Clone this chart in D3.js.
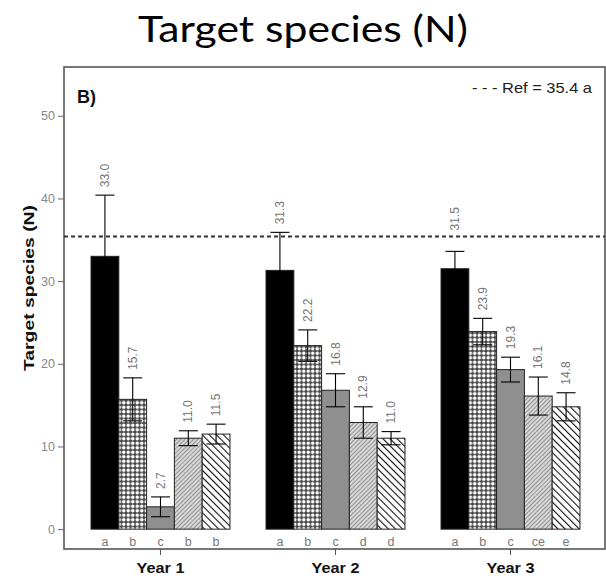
<!DOCTYPE html>
<html><head><meta charset="utf-8">
<script src="https://cdn.jsdelivr.net/npm/d3@7"></script>
<style>body{margin:0;background:#fff}svg{display:block}</style>
</head><body>
<svg id="c" width="606" height="580"></svg>
<script>
const years = ["Year 1", "Year 2", "Year 3"];
const treatments = ["t1", "t2", "t3", "t4", "t5"];
const means = [
  [33.0, 15.7, 2.7, 11.0, 11.5],
  [31.3, 22.2, 16.8, 12.9, 11.0],
  [31.5, 23.9, 19.3, 16.1, 14.8]
];
const errs = [
  [7.4, 2.6, 1.2, 0.9, 1.2],
  [4.6, 1.9, 2.0, 1.9, 0.8],
  [2.1, 1.6, 1.5, 2.3, 1.7]
];
const letters = [
  ["a", "b", "c", "b", "b"],
  ["a", "b", "c", "d", "d"],
  ["a", "b", "c", "ce", "e"]
];
const yTicks = [0, 10, 20, 30, 40, 50];
const refValue = 35.4;
const refLabel = "- - - Ref = 35.4 a";
const title = "Target species (N)";
const yTitle = "Target species (N)";
const panelLabel = "B)";

const FONT = "'Liberation Sans', Arial, sans-serif";
const svg = d3.select("#c");
const defs = svg.append("defs");

// patterns
const p1 = defs.append("pattern").attr("id","pCross").attr("patternUnits","userSpaceOnUse")
  .attr("width",4.5).attr("height",4.5);
p1.append("rect").attr("width",4.5).attr("height",4.5).attr("fill","#444");
p1.append("circle").attr("cx",2.25).attr("cy",2.25).attr("r",1.8).attr("fill","#fff");

const p2 = defs.append("pattern").attr("id","pLight").attr("patternUnits","userSpaceOnUse")
  .attr("width",3).attr("height",3).attr("patternTransform","rotate(45)");
p2.append("rect").attr("width",3).attr("height",3).attr("fill","#d8d8d8");
p2.append("line").attr("x1",0).attr("y1",0).attr("x2",0).attr("y2",3).attr("stroke","#555").attr("stroke-width",1.1);

const p3 = defs.append("pattern").attr("id","pDark").attr("patternUnits","userSpaceOnUse")
  .attr("width",5).attr("height",5).attr("patternTransform","rotate(-45)");
p3.append("rect").attr("width",5).attr("height",5).attr("fill","#fff");
p3.append("line").attr("x1",0).attr("y1",0).attr("x2",0).attr("y2",5).attr("stroke","#111").attr("stroke-width",2.2);

const fills = ["#000", "url(#pCross)", "#8f8f8f", "url(#pLight)", "url(#pDark)"];

const frame = {l: 64, r: 605, t: 67, b: 549};
const x = d3.scaleBand().domain(years).range([73, 598]).paddingInner(0.206).paddingOuter(0.103);
const xi = d3.scaleBand().domain(treatments).range([0, x.bandwidth()]).padding(0);
const y = d3.scaleLinear().domain([-2.4, 55.9]).range([frame.b, frame.t]);

// title
svg.append("text").attr("x", 303).attr("y", 42).attr("text-anchor","middle")
  .attr("font-family","Lato, 'Open Sans', sans-serif").attr("font-size",37).attr("fill","#000")
  .attr("textLength",330).attr("lengthAdjust","spacingAndGlyphs").text(title);

// frame
svg.append("rect").attr("x",frame.l).attr("y",frame.t).attr("width",frame.r-frame.l).attr("height",frame.b-frame.t)
  .attr("fill","none").attr("stroke","#555").attr("stroke-width",1.6);

// y axis
const yAxis = d3.axisLeft(y).tickValues(yTicks).tickSize(6).tickPadding(3);
const ga = svg.append("g").attr("transform",`translate(${frame.l},0)`).call(yAxis);
ga.select(".domain").remove();
ga.selectAll("line").attr("stroke","#666");
ga.selectAll("text").attr("fill","#888").attr("font-family",FONT).attr("font-size",12.5);

// x axis ticks at group centers
const xAxis = d3.axisBottom(x).tickSize(6).tickFormat("");
const gx = svg.append("g").attr("transform",`translate(0,${frame.b})`).call(xAxis);
gx.select(".domain").remove();
gx.selectAll("line").attr("stroke","#555");

svg.append("g").selectAll("text").data(years).join("text")
  .attr("x", d => x(d) + x.bandwidth()/2).attr("y", 573).attr("text-anchor","middle")
  .attr("font-family",FONT).attr("font-weight","bold").attr("font-size",15.5)
  .attr("textLength",48).attr("lengthAdjust","spacingAndGlyphs")
  .attr("fill","#111").text(d => d);

// y title
svg.append("text").attr("transform",`translate(34,288) rotate(-90)`).attr("text-anchor","middle")
  .attr("font-family",FONT).attr("font-weight","bold").attr("font-size",14)
  .attr("textLength",166).attr("lengthAdjust","spacingAndGlyphs")
  .attr("fill","#111").text(yTitle);

// panel label
svg.append("text").attr("x",77).attr("y",103).attr("font-family",FONT)
  .attr("font-weight","bold").attr("font-size",18).attr("fill","#111").text(panelLabel);

// legend
svg.append("text").attr("x",592).attr("y",93).attr("text-anchor","end").attr("font-family",FONT)
  .attr("font-size",15).attr("fill","#222")
  .attr("textLength",120).attr("lengthAdjust","spacingAndGlyphs").text(refLabel);

// data
const rows = [];
years.forEach((yr, gi) => treatments.forEach((t, ti) => rows.push({yr, t, ti, v: means[gi][ti], e: errs[gi][ti], l: letters[gi][ti]})));

const bars = svg.append("g");
bars.selectAll("rect").data(rows).join("rect")
  .attr("x", d => x(d.yr) + xi(d.t)).attr("width", xi.bandwidth())
  .attr("y", d => y(d.v)).attr("height", d => y(0) - y(d.v))
  .attr("fill", d => fills[d.ti]).attr("stroke","#222").attr("stroke-width",1);

// error bars
const eb = svg.append("g").attr("stroke","#000").attr("stroke-width",1.1);
const cx = d => x(d.yr) + xi(d.t) + xi.bandwidth()/2;
eb.selectAll("line.v").data(rows).join("line").attr("class","v")
  .attr("x1",cx).attr("x2",cx).attr("y1",d=>y(d.v+d.e)).attr("y2",d=>y(d.v-d.e));
eb.selectAll("line.u").data(rows).join("line").attr("class","u")
  .attr("x1",d=>cx(d)-9.5).attr("x2",d=>cx(d)+9.5).attr("y1",d=>y(d.v+d.e)).attr("y2",d=>y(d.v+d.e));
eb.selectAll("line.d").data(rows).join("line").attr("class","d")
  .attr("x1",d=>cx(d)-9.5).attr("x2",d=>cx(d)+9.5).attr("y1",d=>y(d.v-d.e)).attr("y2",d=>y(d.v-d.e));

// value labels (kept clear of the reference line)
const yRef = y(refValue);
const labelY = d => {
  let b = y(d.v + d.e) - 8;
  if (b > yRef - 7 && b - 27 < yRef + 3) b = yRef - 6;
  return b;
};
svg.append("g").selectAll("text").data(rows).join("text")
  .attr("transform", d => `translate(${cx(d)+4},${labelY(d)}) rotate(-90)`)
  .attr("font-family",FONT).attr("font-size",12).attr("fill","#777")
  .text(d => d.v.toFixed(1));

// letters
svg.append("g").selectAll("text").data(rows).join("text")
  .attr("x", cx).attr("y", 546).attr("text-anchor","middle")
  .attr("font-family",FONT).attr("font-size",12.5).attr("fill","#777")
  .text(d => d.l);

// reference line
svg.append("line").attr("x1",frame.l).attr("x2",frame.r).attr("y1",yRef).attr("y2",yRef)
  .attr("stroke","#333").attr("stroke-width",2).attr("stroke-dasharray","4,3");
</script>
</body></html>
